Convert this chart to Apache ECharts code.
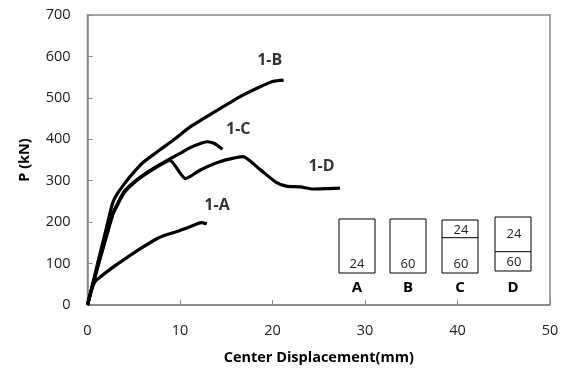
<!DOCTYPE html>
<html><head><meta charset="utf-8">
<script src="https://cdn.jsdelivr.net/npm/echarts@6/dist/echarts.min.js"></script>
<style>html,body{margin:0;padding:0;background:#fff}#c{width:571px;height:373px}</style>
</head><body><div id="c"></div>
<script>
const xTicks = [0, 10, 20, 30, 40, 50];
const yTicks = [0, 100, 200, 300, 400, 500, 600, 700];
const seriesNames = ['1-A', '1-B', '1-C', '1-D'];
const dataA = [[0,0],[0.4,35],[0.8,56],[1.4,68],[2.8,92],[3.9,109],[5.5,133],[7.5,160],[8.6,170],[9.6,177],[11.1,189],[12.3,199],[12.9,196]];
const dataB = [[0,0],[1,92],[2,182],[2.7,245],[3.2,268],[4,293],[4.6,310],[6,344],[7.8,374],[9.5,402],[11.1,430],[13.5,463],[16.5,503],[18.5,525],[20.1,540],[21.2,543]];
const dataC = [[0,0],[1,85],[2,165],[2.8,225],[3.3,247],[4,275],[5.3,302],[7,328],[8.7,350],[10,366],[11.1,380],[12.2,390],[12.9,394],[13.6,391],[14,386],[14.6,376]];
const dataD = [[0,0],[1,83],[2,162],[2.8,222],[3.3,244],[4,272],[5.3,300],[7,326],[8.9,349],[10.6,305],[12.2,326],[14.3,346],[16.8,358],[18.6,328],[20.4,296],[21.5,287],[23,285],[24.4,280],[26,281],[27.3,282]];
const curveLabels = [['1-A',[14.0,240]],['1-B',[19.7,590]],['1-C',[16.3,424]],['1-D',[25.3,335]]];
const insetNames = ['A','B','C','D'];

const chart = echarts.init(document.getElementById('c'));
const font = '"Open Sans","Noto Sans",sans-serif';
const axisCol = '#888';
const lineSeries = [dataA, dataB, dataC, dataD].map((d, i) => ({
  name: seriesNames[i], type: 'line', data: d, showSymbol: false, smooth: 0.2,
  lineStyle: { color: '#000', width: 3.2 }, z: 3
}));
lineSeries.push({
  type: 'scatter', data: curveLabels.map(l => ({ value: l[1], name: l[0] })), symbolSize: 0,
  label: { show: true, position: 'inside', formatter: p => p.name, fontFamily: font, fontWeight: 'bold', fontSize: 16, color: '#000' }
});
chart.setOption({
  animation: false,
  grid: { left: 87.5, right: 21, top: 15, bottom: 68, show: true, borderColor: axisCol, borderWidth: 1.5 },
  xAxis: {
    type: 'value', min: 0, max: 50, interval: 10,
    name: 'Center Displacement(mm)', nameLocation: 'middle', nameGap: 45,
    nameTextStyle: { fontFamily: font, fontWeight: 'bold', fontSize: 14.5, color: '#000' },
    axisLine: { show: true, lineStyle: { color: axisCol, width: 1.5 } },
    axisTick: { show: true, inside: true, length: 5, lineStyle: { color: axisCol } },
    splitLine: { show: false },
    axisLabel: { fontFamily: font, fontSize: 14.5, color: '#222', margin: 18 }
  },
  yAxis: {
    type: 'value', min: 0, max: 700, interval: 100,
    name: 'P (kN)', nameLocation: 'middle', nameGap: 55, nameRotate: 90,
    nameTextStyle: { fontFamily: font, fontWeight: 'bold', fontSize: 14.5, color: '#000' },
    axisLine: { show: true, lineStyle: { color: axisCol, width: 1.5 } },
    axisTick: { show: true, inside: true, length: 5, lineStyle: { color: axisCol } },
    splitLine: { show: false },
    axisLabel: { fontFamily: font, fontSize: 14.5, color: '#222', margin: 17 }
  },
  series: lineSeries
});

// inset specimen diagram
const boxes = [
  { x: 339, y: 219, w: 36, h: 54, div: null, texts: [['24', 357, 264]] },
  { x: 390, y: 219, w: 36, h: 54, div: null, texts: [['60', 408, 264]] },
  { x: 442, y: 220, w: 36, h: 53, div: 237.7, texts: [['24', 461, 230], ['60', 461, 264]] },
  { x: 495, y: 217, w: 36, h: 54, div: 251.7, texts: [['24', 514, 234], ['60', 514, 262]] }
];
const g = [];
boxes.forEach((b, i) => {
  g.push({ type: 'rect', shape: { x: b.x, y: b.y, width: b.w, height: b.h }, style: { fill: '#fff', stroke: '#000', lineWidth: 1 } });
  if (b.div) g.push({ type: 'line', shape: { x1: b.x, y1: b.div, x2: b.x + b.w, y2: b.div }, style: { stroke: '#000', lineWidth: 1 } });
  b.texts.forEach(t => g.push({ type: 'text', x: t[1], y: t[2], style: { text: t[0], fontFamily: font, fontSize: 13, fill: '#222', align: 'center', verticalAlign: 'middle' } }));
  g.push({ type: 'text', x: b.x + b.w / 2, y: 288, style: { text: insetNames[i], fontFamily: font, fontSize: 15, fontWeight: 'bold', fill: '#000', align: 'center', verticalAlign: 'middle' } });
});
chart.setOption({ graphic: g });
</script></body></html>
